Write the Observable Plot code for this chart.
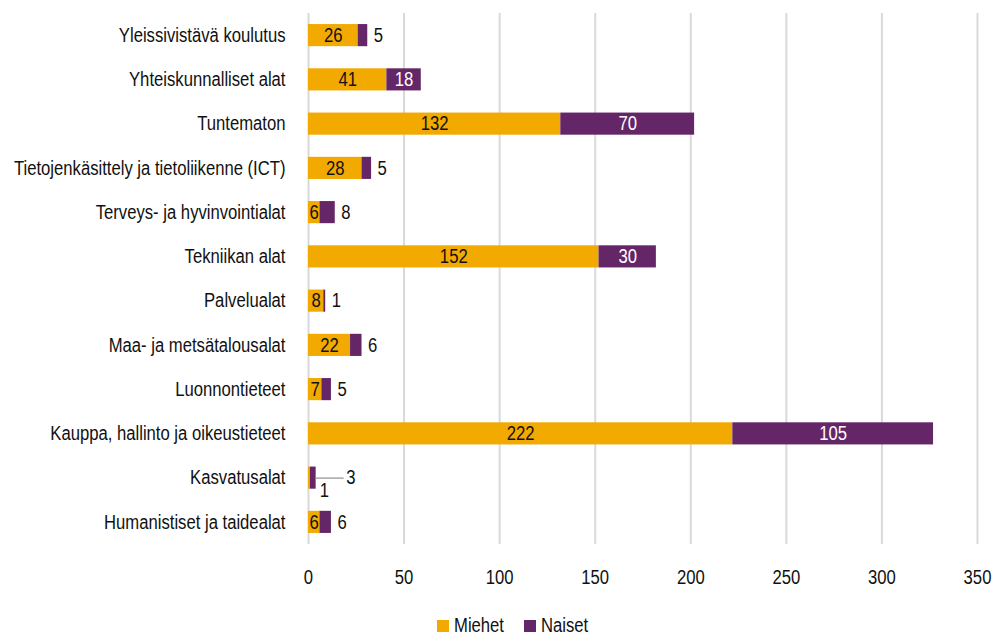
<!DOCTYPE html>
<html>
<head>
<meta charset="utf-8">
<script src="https://cdn.jsdelivr.net/npm/d3@7"></script>
<script src="https://cdn.jsdelivr.net/npm/@observablehq/plot@0.6"></script>
<style>
  body { margin: 0; background: #fff; }
  #chart { width: 995px; font-family: "Liberation Sans", Arial, sans-serif; }
  #chart svg { display: block; }
</style>
</head>
<body>
<div id="chart"></div>
<script>
const categories = [
  "Yleissivistävä koulutus",
  "Yhteiskunnalliset alat",
  "Tuntematon",
  "Tietojenkäsittely ja tietoliikenne (ICT)",
  "Terveys- ja hyvinvointialat",
  "Tekniikan alat",
  "Palvelualat",
  "Maa- ja metsätalousalat",
  "Luonnontieteet",
  "Kauppa, hallinto ja oikeustieteet",
  "Kasvatusalat",
  "Humanistiset ja taidealat"
];
const miehet = [26, 41, 132, 28, 6, 152, 8, 22, 7, 222, 1, 6];
const naiset = [5, 18, 70, 5, 8, 30, 1, 6, 5, 105, 3, 6];
const seriesNames = ["Miehet", "Naiset"];
const seriesColors = ["#F2A900", "#642667"];
const xTicks = [0, 50, 100, 150, 200, 250, 300, 350];

const rows = [];
categories.forEach((c, i) => {
  rows.push({cat: c, series: "Miehet", value: miehet[i], start: 0, end: miehet[i]});
  rows.push({cat: c, series: "Naiset", value: naiset[i], start: miehet[i], end: miehet[i] + naiset[i]});
});

const mInside = rows.filter(d => d.series === "Miehet" && d.value >= 2);
const mTiny = rows.filter(d => d.series === "Miehet" && d.value < 2);
const nInside = rows.filter(d => d.series === "Naiset" && d.value >= 15);
const nOutside = rows.filter(d => d.series === "Naiset" && d.value < 15 && d.end >= 5);
const nLeader = rows.filter(d => d.series === "Naiset" && d.value < 15 && d.end < 5);

const fontSize = 19.5;
const squeeze = 0.855;

const chart = Plot.plot({
  width: 995,
  height: 600,
  marginLeft: 308,
  marginRight: 18,
  marginTop: 13,
  marginBottom: 56,
  style: {fontSize: fontSize + "px", fontFamily: "inherit", color: "#111", background: "#fff"},
  x: {domain: [0, 350], ticks: xTicks, label: null, tickSize: 0, tickPadding: 26, grid: false},
  y: {domain: categories, label: null, tickSize: 0, tickPadding: 23, paddingInner: 0.5, paddingOuter: 0.25, round: false},
  color: {domain: seriesNames, range: seriesColors},
  marks: [
    Plot.ruleX(xTicks, {stroke: "#d9d9d9", strokeWidth: 2, strokeOpacity: 1}),
    Plot.barX(rows, {y: "cat", x1: "start", x2: "end", fill: "series"}),
    Plot.text(mInside, {y: "cat", x: d => (d.start + d.end) / 2, text: d => String(d.value), fill: "#111", fontSize}),
    Plot.text(mTiny, {y: "cat", x: d => d.end, text: d => String(d.value), fill: "#111", fontSize, dx: 14, dy: 13}),
    Plot.text(nInside, {y: "cat", x: d => (d.start + d.end) / 2, text: d => String(d.value), fill: "#fff", fontSize}),
    Plot.text(nOutside, {y: "cat", x: "end", text: d => String(d.value), fill: "#111", fontSize, dx: 6, textAnchor: "start"}),
    Plot.ruleY(nLeader, {y: "cat", x1: "end", x2: d => d.end, stroke: "#a6a6a6", strokeWidth: 1.5, insetRight: -28}),
    Plot.text(nLeader, {y: "cat", x: "end", text: d => String(d.value), fill: "#111", fontSize, dx: 30, textAnchor: "start"})
  ]
});

// Narrow the text horizontally (about its own anchor) to mimic a condensed typeface
function squeezeText(root) {
  root.querySelectorAll("text").forEach(t => {
    let x = parseFloat(t.getAttribute("x"));
    if (!isFinite(x)) x = 0;
    const tr = t.getAttribute("transform") || "";
    const comp = x * (1 - squeeze);
    t.setAttribute("transform", `${tr} translate(${comp},0) scale(${squeeze},1)`);
  });
}
squeezeText(chart);
document.getElementById("chart").appendChild(chart);

// Legend
const leg = d3.create("svg").attr("width", 995).attr("height", 36)
  .style("font-family", "Liberation Sans, Arial, sans-serif").style("font-size", fontSize + "px");
const legX = [437, 524];
seriesNames.forEach((s, i) => {
  leg.append("rect").attr("x", legX[i]).attr("y", 20).attr("width", 12).attr("height", 12).attr("fill", seriesColors[i]);
  leg.append("text").attr("transform", `translate(${legX[i] + 17},31.5) scale(${squeeze},1)`).attr("fill", "#111").text(s);
});
document.getElementById("chart").appendChild(leg.node());
</script>
</body>
</html>
